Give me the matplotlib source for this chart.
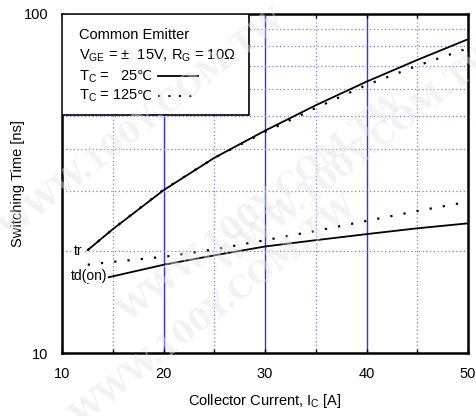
import matplotlib
matplotlib.use("Agg")
import matplotlib.pyplot as plt
from matplotlib.patches import Rectangle
from matplotlib.lines import Line2D

plt.rcParams['font.family'] = ['Liberation Sans', 'DejaVu Sans']
plt.rcParams['mathtext.fontset'] = 'custom'
plt.rcParams['mathtext.rm'] = 'Liberation Sans'

# Data
ic = [12.5, 15, 20, 25, 30, 35, 40, 45, 50]
tr_25 = [20.1, 23.2, 30.2, 37.6, 45.2, 53.7, 63.0, 73.0, 84.0]
tr_125 = [20.1, 23.2, 30.3, 37.6, 44.8, 52.7, 61.6, 70.2, 79.0]
ic_td = [12.5, 14.5, 20, 25, 30, 35, 40, 45, 50]
td_25 = [16.1, 16.7, 18.2, 19.4, 20.6, 21.5, 22.4, 23.3, 24.1]
td_125 = [18.2, 18.5, 19.2, 20.2, 21.5, 22.9, 24.5, 26.2, 27.9]

x_ticks = [10, 20, 30, 40, 50]

fig = plt.figure(figsize=(4.76, 4.16), dpi=100)
ax = fig.add_axes([0.131, 0.1514, 0.852, 0.816])
ax.set_yscale('log')
ax.set_xlim(10, 50)
ax.set_ylim(10, 100)

# grid
for x in [20, 30, 40]:
    ax.axvline(x, color='#2f2fff', lw=1.0, zorder=1)
for x in [15, 25, 35, 45]:
    ax.axvline(x, color='#7a7aff', lw=0.9, ls=(0, (1, 2)), zorder=1)
for y in range(20, 100, 10):
    ax.axhline(y, color='#7a7aff', lw=0.9, ls=(0, (1, 2)), zorder=1)

ax.plot(ic, tr_25, color='black', lw=1.3, zorder=3)
ax.plot(ic, tr_125, color='black', lw=1.6, ls=(0, (1, 5)), zorder=3)
ax.plot(ic_td, td_25, color='black', lw=1.3, zorder=3)
ax.plot(ic_td, td_125, color='black', lw=1.6, ls=(0, (1, 5)), zorder=3)

ax.text(12.0, 20.0, 'tr', fontsize=10, ha='right', va='center', zorder=4,
        bbox=dict(facecolor='white', edgecolor='none', pad=0.5))
ax.text(14.4, 16.9, 'td(on)', fontsize=10, ha='right', va='center', zorder=4,
        bbox=dict(facecolor='white', edgecolor='none', pad=0.5))

ax.set_xticks(x_ticks)
ax.set_xticks([15, 25, 35, 45], minor=True)
ax.set_yticks([10, 100])
ax.set_yticklabels(['10', '100'])
ax.yaxis.set_minor_locator(matplotlib.ticker.NullLocator())
ax.tick_params(axis='both', which='both', direction='in', top=True, right=True,
               labelsize=10.5, length=3, width=1)
ax.tick_params(axis='x', pad=10)
ax.tick_params(axis='y', pad=10)
for s in ax.spines.values():
    s.set_linewidth(1.8)

ax.set_xlabel('Collector Current, I$_\\mathregular{C}$ [A]', fontsize=10.5, labelpad=8)
ax.set_ylabel('Switching Time [ns]', fontsize=10.5, labelpad=-1)

# legend box in axes-fraction coordinates
box = Rectangle((0, 0.702), 0.46, 0.298, transform=ax.transAxes,
                facecolor='white', edgecolor='black', lw=1.2, zorder=5)
ax.add_patch(box)
tx = 0.04
fs = 10.5
ax.text(tx, 0.938, 'Common Emitter', transform=ax.transAxes, fontsize=fs,
        va='center', zorder=6)
ax.text(tx, 0.876, 'V$_\\mathregular{GE}$ = \u00b1  15V, R$_\\mathregular{G}$ = 10\u03a9',
        transform=ax.transAxes, fontsize=fs, va='center', zorder=6)
ax.text(tx, 0.815, 'T$_\\mathregular{C}$ =   25', transform=ax.transAxes,
        fontsize=fs, va='center', zorder=6)
ax.text(0.183, 0.815, '\u2103', transform=ax.transAxes, family='DejaVu Sans',
        fontsize=9.5, va='center', zorder=6)
ax.text(tx, 0.757, 'T$_\\mathregular{C}$ = 125', transform=ax.transAxes,
        fontsize=fs, va='center', zorder=6)
ax.text(0.183, 0.757, '\u2103', transform=ax.transAxes, family='DejaVu Sans',
        fontsize=9.5, va='center', zorder=6)
ax.add_line(Line2D([0.235, 0.335], [0.815, 0.815], transform=ax.transAxes,
                   color='black', lw=1.3, zorder=6))
ax.add_line(Line2D([0.235, 0.33], [0.757, 0.757], transform=ax.transAxes,
                   color='black', lw=1.5, ls=(0, (1, 4)), zorder=6))

# faint watermark
for (wx, wy) in [(0.30, 0.70), (0.55, 0.50), (0.45, 0.25), (0.75, 0.62)]:
    fig.text(wx, wy, 'WWW.100Y.COM.TW', fontsize=22, family='DejaVu Serif',
             fontweight='bold', color='#e4e4e4', alpha=0.45, rotation=38,
             ha='center', va='center', zorder=10)

fig.savefig('out.png', dpi=100)
